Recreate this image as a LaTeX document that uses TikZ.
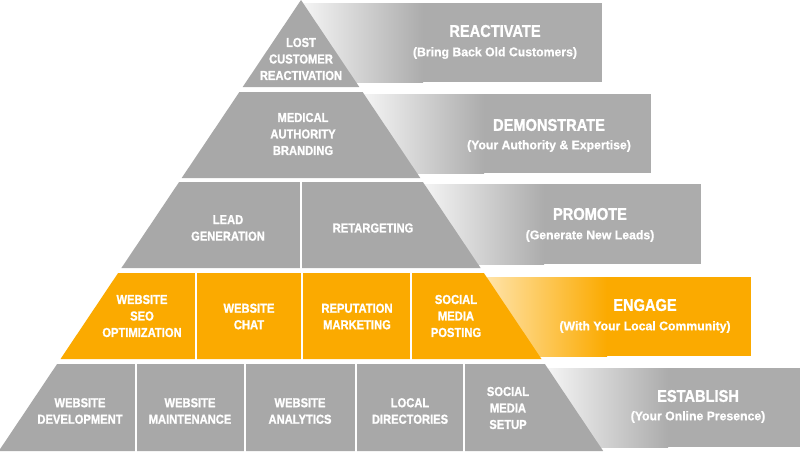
\documentclass[tikz,border=0pt]{standalone}
\usepackage{fontspec}
\newfontfamily\pyr{Liberation Sans}[FakeStretch=0.86, FakeBold=1.2]
\newfontfamily\pyrsub{Liberation Sans}[FakeStretch=0.98, FakeBold=0.8]
\definecolor{pgray}{HTML}{A8A8A8}
\definecolor{bgray}{HTML}{ACACAC}
\definecolor{porange}{HTML}{FBAA00}
\definecolor{lgray}{HTML}{F4F4F4}
\definecolor{lorange}{HTML}{FFE3A8}
\newcommand\mybanner[6]{%
  \fill[#5] (#4,#1) rectangle (#3,#2);
  \shade[left color=#6, right color=#5] (#4,#1) rectangle ({#4+120},#2);
}
\begin{document}
\begin{tikzpicture}[x=1pt,y=-1pt,
  celltext/.style={text=white, font=\pyr\bfseries\fontsize{13}{16.5}\selectfont, align=center, inner sep=0pt},
  titletext/.style={text=white, font=\pyr\bfseries\fontsize{17}{20}\selectfont, inner sep=0pt},
  subtext/.style={text=white, font=\pyrsub\bfseries\fontsize{12.5}{16}\selectfont, inner sep=0pt},
  divider/.style={white, line width=2.5pt}]
\useasboundingbox (0,0) rectangle (800,451);
\fill[white] (0,0) rectangle (800,451);
% banners
\mybanner{3}{82}{602}{303}{bgray}{lgray}
\mybanner{94}{173}{651}{364}{bgray}{lgray}
\mybanner{184}{264}{701}{424}{bgray}{lgray}
\mybanner{277}{356}{751}{487}{porange}{lorange}
\mybanner{368}{447}{800}{548}{bgray}{lgray}
% pyramid rows
\fill[pgray] (301,0) -- (242.7,87) -- (359.3,87) -- cycle;
\fill[pgray] (239.4,92) -- (362.6,92) -- (420.3,178) -- (181.7,178) -- cycle;
\fill[pgray] (179.1,182) -- (422.9,182) -- (480.6,268) -- (121.4,268) -- cycle;
\fill[porange] (118.1,273) -- (483.9,273) -- (541.5,359) -- (60.5,359) -- cycle;
\fill[pgray] (57.1,364) -- (544.9,364) -- (603.2,451) -- (-1.2,451) -- cycle;
% dividers
\draw[divider] (301,181) -- (301,269);
\foreach \x in {196,302,411} \draw[divider] (\x,272) -- (\x,360);
\foreach \x in {136,245,356,464} \draw[divider] (\x,363) -- (\x,452);
% cell texts
\node[celltext] (c1) at (301,59) {LOST\\CUSTOMER\\REACTIVATION};
\node[celltext] (c2) at (303,134) {MEDICAL\\AUTHORITY\\BRANDING};
\node[celltext] (c3a) at (228,228) {LEAD\\GENERATION};
\node[celltext] (c3b) at (373,228) {RETARGETING};
\node[celltext] (c4a) at (142,316) {WEBSITE\\SEO\\OPTIMIZATION};
\node[celltext] (c4b) at (249,316.5) {WEBSITE\\CHAT};
\node[celltext] (c4c) at (357,316.5) {REPUTATION\\MARKETING};
\node[celltext] (c4d) at (456,316) {SOCIAL\\MEDIA\\POSTING};
\node[celltext] (c5a) at (80,411) {WEBSITE\\DEVELOPMENT};
\node[celltext] (c5b) at (190,411) {WEBSITE\\MAINTENANCE};
\node[celltext] (c5c) at (300,411) {WEBSITE\\ANALYTICS};
\node[celltext] (c5d) at (410,411) {LOCAL\\DIRECTORIES};
\node[celltext] (c5e) at (508,408) {SOCIAL\\MEDIA\\SETUP};
% banner texts
\node[titletext] (t1) at (495,31) {REACTIVATE};
\node[subtext] (s1) at (495,53) {(Bring Back Old Customers)};
\node[titletext] (t2) at (549,125) {DEMONSTRATE};
\node[subtext] (s2) at (549,146) {(Your Authority \& Expertise)};
\node[titletext] (t3) at (590,214) {PROMOTE};
\node[subtext] (s3) at (590,236) {(Generate New Leads)};
\node[titletext] (t4) at (645,305) {ENGAGE};
\node[subtext] (s4) at (645,327) {(With Your Local Community)};
\node[titletext] (t5) at (698,396) {ESTABLISH};
\node[subtext] (s5) at (698,417) {(Your Online Presence)};
\end{tikzpicture}
\end{document}
